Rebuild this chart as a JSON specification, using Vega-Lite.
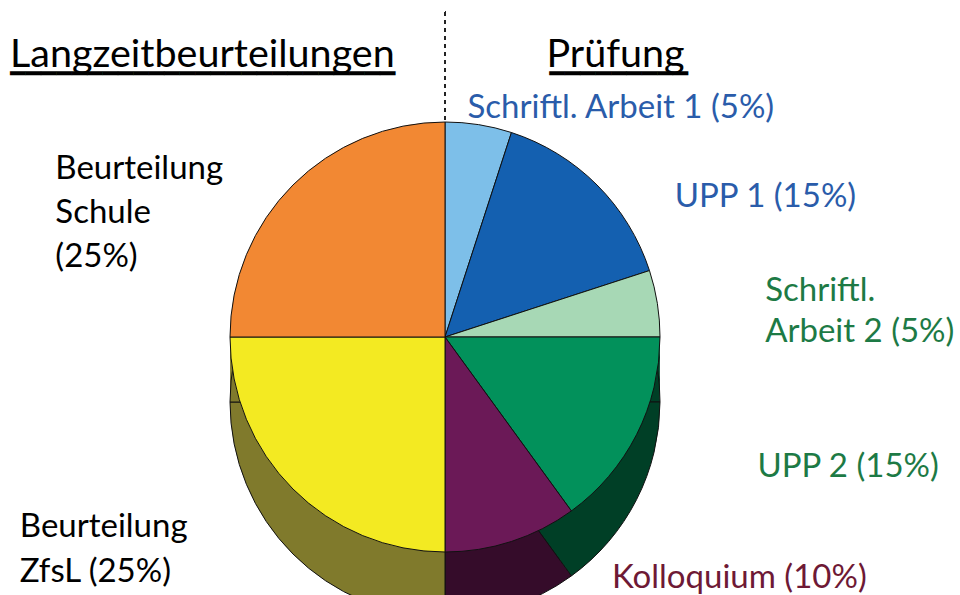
{
  "$schema": "https://vega.github.io/schema/vega-lite/v6.json",
  "width": 890,
  "height": 480,
  "autosize": {"type": "none"},
  "padding": {"left": 0, "top": 97, "right": 70, "bottom": 18},
  "background": "white",
  "config": {"view": {"stroke": null}},
  "title": {
    "text": "Langzeitbeurteilungen\u00a0\u00a0\u00a0\u00a0\u00a0\u00a0\u00a0\u00a0\u00a0\u00a0\u00a0\u00a0\u00a0\u00a0\u00a0Prüfung",
    "subtitle": "\u2581\u2581\u2581\u2581\u2581\u2581\u2581\u2581\u2581\u2581\u2581\u2581\u2581\u2581\u2581\u2581\u2581\u2581\u2581\u2581\u2581\u2581\u2581\u2581\u2581\u00a0\u00a0\u00a0\u00a0\u00a0\u00a0\u00a0\u00a0\u00a0\u00a0\u2581\u2581\u2581\u2581\u2581\u2581\u2581\u2581\u2581",
    "anchor": "start",
    "frame": "group",
    "dx": 10,
    "dy": 90,
    "offset": 0,
    "font": "Lato",
    "fontSize": 39.5,
    "fontWeight": "normal",
    "color": "#000000",
    "subtitleFont": "DejaVu Sans Mono",
    "subtitleFontSize": 25.6,
    "subtitleColor": "#000000",
    "subtitlePadding": -26
  },
  "data": {
    "values": [
      {"cat": "Schriftl. Arbeit 1", "value": 5, "rank": 1, "label": "Schriftl. Arbeit 1 (5%)"},
      {"cat": "UPP 1", "value": 15, "rank": 2, "label": "UPP 1 (15%)"},
      {"cat": "Schriftl. Arbeit 2", "value": 5, "rank": 3, "label": "Schriftl.\nArbeit 2 (5%)"},
      {"cat": "UPP 2", "value": 15, "rank": 4, "label": "UPP 2 (15%)"},
      {"cat": "Kolloquium", "value": 10, "rank": 5, "label": "Kolloquium (10%)"},
      {"cat": "Beurteilung ZfsL", "value": 25, "rank": 6, "label": "Beurteilung\nZfsL (25%)"},
      {"cat": "Beurteilung Schule", "value": 25, "rank": 7, "label": "Beurteilung\nSchule\n(25%)"}
    ]
  },
  "layer": [
    {
      "mark": {"type": "arc", "outerRadius": 215, "yOffset": 20},
      "encoding": {
        "theta": {"field": "value", "type": "quantitative", "stack": true},
        "order": {"field": "rank", "type": "quantitative"},
        "color": {"field": "cat", "type": "nominal", "legend": null,
          "scale": {"domain": ["Schriftl. Arbeit 1", "UPP 1", "Schriftl. Arbeit 2", "UPP 2", "Kolloquium", "Beurteilung ZfsL", "Beurteilung Schule"],
                    "range": ["#0A3058", "#0A3058", "#003F26", "#003F26", "#350C2A", "#807A2C", "#807A2C"]}}
      }
    },
    {
      "mark": {"type": "arc", "outerRadius": 215, "yOffset": 42},
      "encoding": {
        "theta": {"field": "value", "type": "quantitative", "stack": true},
        "order": {"field": "rank", "type": "quantitative"},
        "color": {"field": "cat", "type": "nominal", "legend": null,
          "scale": {"domain": ["Schriftl. Arbeit 1", "UPP 1", "Schriftl. Arbeit 2", "UPP 2", "Kolloquium", "Beurteilung ZfsL", "Beurteilung Schule"],
                    "range": ["#0A3058", "#0A3058", "#003F26", "#003F26", "#350C2A", "#807A2C", "#807A2C"]}}
      }
    },
    {
      "mark": {"type": "arc", "outerRadius": 215, "yOffset": 65, "stroke": "#111111", "strokeWidth": 1},
      "encoding": {
        "theta": {"field": "value", "type": "quantitative", "stack": true},
        "order": {"field": "rank", "type": "quantitative"},
        "color": {"field": "cat", "type": "nominal", "legend": null,
          "scale": {"domain": ["Schriftl. Arbeit 1", "UPP 1", "Schriftl. Arbeit 2", "UPP 2", "Kolloquium", "Beurteilung ZfsL", "Beurteilung Schule"],
                    "range": ["#0A3058", "#0A3058", "#003F26", "#003F26", "#350C2A", "#807A2C", "#807A2C"]}}
      }
    },
    {
      "mark": {"type": "arc", "outerRadius": 215, "stroke": "#111111", "strokeWidth": 1},
      "encoding": {
        "theta": {"field": "value", "type": "quantitative", "stack": true},
        "order": {"field": "rank", "type": "quantitative"},
        "color": {"field": "cat", "type": "nominal", "legend": null,
          "scale": {"domain": ["Schriftl. Arbeit 1", "UPP 1", "Schriftl. Arbeit 2", "UPP 2", "Kolloquium", "Beurteilung ZfsL", "Beurteilung Schule"],
                    "range": ["#7DBFE9", "#1460B0", "#A7D8B5", "#02915B", "#6B1957", "#F3EA22", "#F28833"]}}
      }
    },
    {
      "data": {"values": [{"k": 1}]},
      "mark": {"type": "arc", "theta": 0, "theta2": 0.00001, "outerRadius": 325, "innerRadius": 215, "fill": null, "stroke": "#222222", "strokeWidth": 2, "strokeDash": [2, 6]},
      "encoding": {}
    },
    {
      "mark": {"type": "text", "font": "Lato", "fontSize": 33, "lineBreak": "\n", "lineHeight": 44, "radius": 240, "align": "left", "baseline": "middle", "dx": -15, "dy": 8, "color": "#2A5CAA"},
      "encoding": {
        "theta": {"field": "value", "type": "quantitative", "stack": true},
        "order": {"field": "rank", "type": "quantitative"},
        "detail": {"field": "cat", "type": "nominal"},
        "text": {"condition": {"test": "datum.cat === 'Schriftl. Arbeit 1'", "field": "label", "type": "nominal"}, "value": ""}
      }
    },
    {
      "mark": {"type": "text", "font": "Lato", "fontSize": 33, "lineBreak": "\n", "lineHeight": 44, "radius": 250, "align": "left", "baseline": "middle", "dx": 53, "dy": 37, "color": "#2A5CAA"},
      "encoding": {
        "theta": {"field": "value", "type": "quantitative", "stack": true},
        "order": {"field": "rank", "type": "quantitative"},
        "detail": {"field": "cat", "type": "nominal"},
        "text": {"condition": {"test": "datum.cat === 'UPP 1'", "field": "label", "type": "nominal"}, "value": ""}
      }
    },
    {
      "mark": {"type": "text", "font": "Lato", "fontSize": 33, "lineBreak": "\n", "lineHeight": 41, "radius": 310, "align": "left", "baseline": "middle", "dx": 14, "dy": 2, "color": "#1D7A45"},
      "encoding": {
        "theta": {"field": "value", "type": "quantitative", "stack": true},
        "order": {"field": "rank", "type": "quantitative"},
        "detail": {"field": "cat", "type": "nominal"},
        "text": {"condition": {"test": "datum.cat === 'Schriftl. Arbeit 2'", "field": "label", "type": "nominal"}, "value": ""}
      }
    },
    {
      "mark": {"type": "text", "font": "Lato", "fontSize": 33, "lineBreak": "\n", "lineHeight": 44, "radius": 290, "align": "left", "baseline": "middle", "dx": 54, "dy": -2, "color": "#1D7A45"},
      "encoding": {
        "theta": {"field": "value", "type": "quantitative", "stack": true},
        "order": {"field": "rank", "type": "quantitative"},
        "detail": {"field": "cat", "type": "nominal"},
        "text": {"condition": {"test": "datum.cat === 'UPP 2'", "field": "label", "type": "nominal"}, "value": ""}
      }
    },
    {
      "mark": {"type": "text", "font": "Lato", "fontSize": 33, "lineBreak": "\n", "lineHeight": 44, "radius": 262, "align": "left", "baseline": "middle", "dx": 86, "dy": -8, "color": "#6E1935"},
      "encoding": {
        "theta": {"field": "value", "type": "quantitative", "stack": true},
        "order": {"field": "rank", "type": "quantitative"},
        "detail": {"field": "cat", "type": "nominal"},
        "text": {"condition": {"test": "datum.cat === 'Kolloquium'", "field": "label", "type": "nominal"}, "value": ""}
      }
    },
    {
      "mark": {"type": "text", "font": "Lato", "fontSize": 33, "lineBreak": "\n", "lineHeight": 45, "radius": 310, "align": "left", "baseline": "middle", "dx": -206, "dy": -29, "color": "#000000"},
      "encoding": {
        "theta": {"field": "value", "type": "quantitative", "stack": true},
        "order": {"field": "rank", "type": "quantitative"},
        "detail": {"field": "cat", "type": "nominal"},
        "text": {"condition": {"test": "datum.cat === 'Beurteilung ZfsL'", "field": "label", "type": "nominal"}, "value": ""}
      }
    },
    {
      "mark": {"type": "text", "font": "Lato", "fontSize": 33, "lineBreak": "\n", "lineHeight": 44, "radius": 165, "align": "left", "baseline": "middle", "dx": -273, "dy": -51, "color": "#000000"},
      "encoding": {
        "theta": {"field": "value", "type": "quantitative", "stack": true},
        "order": {"field": "rank", "type": "quantitative"},
        "detail": {"field": "cat", "type": "nominal"},
        "text": {"condition": {"test": "datum.cat === 'Beurteilung Schule'", "field": "label", "type": "nominal"}, "value": ""}
      }
    }
  ],
  "resolve": {"scale": {"color": "independent"}}
}
